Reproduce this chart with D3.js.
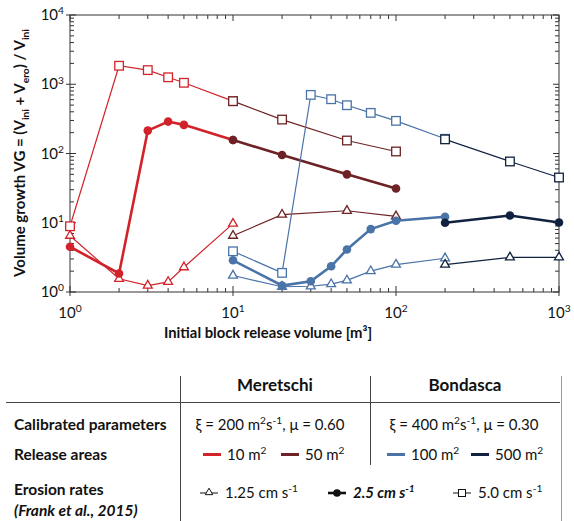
<!DOCTYPE html>
<html>
<head>
<meta charset="utf-8">
<script src="https://cdn.jsdelivr.net/npm/d3@7"></script>
<style>
  body { margin: 0; background: #fff; }
  svg text { font-family: Lato, "Open Sans", sans-serif; fill: #111; }
</style>
</head>
<body>
<svg id="chart" width="574" height="521"></svg>
<script>
// Meretschi, 10 m2 release area
const met10X = [1, 2, 3, 4, 5, 10];
const met10Slow = [6.5, 1.55, 1.24, 1.4, 2.28, 9.7];      // 1.25 cm/s
const met10Mid = [4.5, 1.85, 214, 289, 259, 157];         // 2.5 cm/s
const met10Fast = [8.9, 1850, 1600, 1260, 1050, 570];     // 5.0 cm/s
// Meretschi, 50 m2
const met50X = [10, 20, 50, 100];
const met50Slow = [6.5, 13.1, 14.9, 12.4];
const met50Mid = [157, 95, 50, 31.3];
const met50Fast = [570, 309, 154, 107];
// Bondasca, 100 m2
const bon100X = [10, 20, 30, 40, 50, 70, 100, 200];
const bon100Slow = [1.73, 1.19, 1.21, 1.3, 1.47, 2.0, 2.49, 3.07];
const bon100Mid = [2.87, 1.24, 1.43, 2.35, 4.1, 8.1, 10.7, 12.2];
const bon100Fast = [3.87, 1.89, 702, 608, 498, 386, 296, 163];
// Bondasca, 500 m2
const bon500X = [200, 500, 1000];
const bon500Slow = [2.49, 3.17, 3.17];
const bon500Mid = [10.0, 12.7, 10.1];
const bon500Fast = [160, 76.7, 45];

const xTicks = [1, 10, 100, 1000];
const yTicks = [1, 10, 100, 1000, 10000];

const areaColors = { met10: '#d2232a', met50: '#6d2325', bon100: '#4a73a8', bon500: '#10223f' };

const svg = d3.select('#chart');
const x = d3.scaleLog().domain([1, 1000]).range([70, 559]);
const y = d3.scaleLog().domain([1, 10000]).range([292, 15]);

// rich text helper: parts = [[text, 'n'|'sup'|'sub'], ...]
function rich(t, parts, size) {
  let shift = 0;
  parts.forEach(([s, k]) => {
    const target = k === 'sup' ? -size * 0.38 : k === 'sub' ? size * 0.25 : 0;
    t.append('tspan')
      .attr('dy', target - shift)
      .style('font-size', (k === 'n' ? size : size * 0.68) + 'px')
      .text(s);
    shift = target;
  });
  return t;
}

// frame
const g = svg.append('g');
g.append('rect').attr('x', x.range()[0]).attr('y', y.range()[1])
  .attr('width', x.range()[1] - x.range()[0]).attr('height', y.range()[0] - y.range()[1])
  .attr('fill', 'none').attr('stroke', '#333').attr('stroke-width', 1);

// minor/major ticks all round, pointing inward
function logMinor(lo, hi) {
  const out = [];
  for (let d = lo; d < hi; d *= 10) for (let k = 2; k <= 9; k++) out.push(d * k);
  return out;
}
const tk = svg.append('g').attr('stroke', '#333').attr('stroke-width', 1);
logMinor(1, 1000).forEach(v => {
  tk.append('line').attr('x1', x(v)).attr('x2', x(v)).attr('y1', 292).attr('y2', 288);
  tk.append('line').attr('x1', x(v)).attr('x2', x(v)).attr('y1', 15).attr('y2', 19);
});
xTicks.forEach(v => {
  tk.append('line').attr('x1', x(v)).attr('x2', x(v)).attr('y1', 296).attr('y2', 286);
  tk.append('line').attr('x1', x(v)).attr('x2', x(v)).attr('y1', 15).attr('y2', 21);
});
logMinor(1, 10000).forEach(v => {
  tk.append('line').attr('y1', y(v)).attr('y2', y(v)).attr('x1', 70).attr('x2', 74);
  tk.append('line').attr('y1', y(v)).attr('y2', y(v)).attr('x1', 559).attr('x2', 555);
});
yTicks.forEach(v => {
  tk.append('line').attr('y1', y(v)).attr('y2', y(v)).attr('x1', 66).attr('x2', 76);
  tk.append('line').attr('y1', y(v)).attr('y2', y(v)).attr('x1', 559).attr('x2', 553);
});

// tick labels
xTicks.forEach(v => {
  rich(svg.append('text').attr('x', x(v)).attr('y', 318).attr('text-anchor', 'middle'),
    [['10', 'n'], [String(Math.round(Math.log10(v))), 'sup']], 15);
});
yTicks.forEach(v => {
  rich(svg.append('text').attr('x', 64).attr('y', y(v) + 5).attr('text-anchor', 'end'),
    [['10', 'n'], [String(Math.round(Math.log10(v))), 'sup']], 15);
});

// axis titles
svg.append('text').attr('x', 268).attr('y', 338).attr('text-anchor', 'middle')
  .style('font-weight', 'bold').style('font-size', '14.8px')
  .text('Initial block release volume [m³]');
rich(svg.append('text').attr('transform', 'translate(25,153) rotate(-90)')
  .attr('text-anchor', 'middle').style('font-weight', 'bold'),
  [['Volume growth VG = (V', 'n'], ['ini', 'sub'], [' + V', 'n'], ['ero', 'sub'],
   [') / V', 'n'], ['ini', 'sub']], 15);

// series
const rates = [
  { key: 'Slow', shape: 'tri', width: 1.2 },
  { key: 'Mid', shape: 'circle', width: 2.6 },
  { key: 'Fast', shape: 'square', width: 1.2 }
];
const groups = [
  { id: 'met10', xs: met10X, Slow: met10Slow, Mid: met10Mid, Fast: met10Fast },
  { id: 'met50', xs: met50X, Slow: met50Slow, Mid: met50Mid, Fast: met50Fast },
  { id: 'bon100', xs: bon100X, Slow: bon100Slow, Mid: bon100Mid, Fast: bon100Fast },
  { id: 'bon500', xs: bon500X, Slow: bon500Slow, Mid: bon500Mid, Fast: bon500Fast }
];

const line = d3.line().x(d => x(d[0])).y(d => y(d[1]));

function marker(sel, shape, cx, cy, color) {
  if (shape === 'circle') {
    sel.append('circle').attr('cx', cx).attr('cy', cy).attr('r', 4.3).attr('fill', color);
  } else if (shape === 'square') {
    sel.append('rect').attr('x', cx - 4.3).attr('y', cy - 4.3).attr('width', 8.6).attr('height', 8.6)
      .attr('fill', '#fff').attr('stroke', color).attr('stroke-width', 1.3);
  } else {
    sel.append('path').attr('transform', `translate(${cx},${cy})`)
      .attr('d', d3.symbol(d3.symbolTriangle, 34)())
      .attr('fill', '#fff').attr('stroke', color).attr('stroke-width', 1.3);
  }
}

const plot = svg.append('g');
groups.forEach(gr => {
  const color = areaColors[gr.id];
  rates.forEach(r => {
    const pts = gr.xs.map((v, i) => [v, gr[r.key][i]]);
    plot.append('path').datum(pts).attr('d', line)
      .attr('fill', 'none').attr('stroke', color).attr('stroke-width', r.width);
    pts.forEach(p => marker(plot, r.shape, x(p[0]), y(p[1]), color));
  });
});

// ----- table / legend -----
const tb = svg.append('g');
tb.append('line').attr('x1', 6).attr('x2', 560).attr('y1', 402.5).attr('y2', 402.5).attr('stroke', '#444');
tb.append('line').attr('x1', 180.5).attr('x2', 180.5).attr('y1', 376).attr('y2', 521).attr('stroke', '#444');
tb.append('line').attr('x1', 370.5).attr('x2', 370.5).attr('y1', 376).attr('y2', 465).attr('stroke', '#444');
tb.append('line').attr('x1', 561.5).attr('x2', 561.5).attr('y1', 376).attr('y2', 521).attr('stroke', '#999');

tb.append('text').attr('x', 275).attr('y', 391).attr('text-anchor', 'middle')
  .style('font-weight', 'bold').style('font-size', '17px').text('Meretschi');
tb.append('text').attr('x', 465).attr('y', 391).attr('text-anchor', 'middle')
  .style('font-weight', 'bold').style('font-size', '17px').text('Bondasca');

[['Calibrated parameters', 430], ['Release areas', 460], ['Erosion rates', 495]].forEach(([s, yy]) => {
  tb.append('text').attr('x', 14).attr('y', yy).style('font-weight', 'bold').style('font-size', '15.5px').text(s);
});
tb.append('text').attr('x', 14).attr('y', 516).style('font-weight', 'bold').style('font-style', 'italic')
  .style('font-size', '15.5px').text('(Frank et al., 2015)');

rich(tb.append('text').attr('x', 270).attr('y', 430).attr('text-anchor', 'middle'),
  [['ξ = 200 m', 'n'], ['2', 'sup'], ['s', 'n'], ['-1', 'sup'], [', μ = 0.60', 'n']], 15);
rich(tb.append('text').attr('x', 464).attr('y', 430).attr('text-anchor', 'middle'),
  [['ξ = 400 m', 'n'], ['2', 'sup'], ['s', 'n'], ['-1', 'sup'], [', μ = 0.30', 'n']], 15);

const releaseItems = [
  { id: 'met10', x0: 203, label: '10 m' },
  { id: 'met50', x0: 281, label: '50 m' },
  { id: 'bon100', x0: 387, label: '100 m' },
  { id: 'bon500', x0: 471, label: '500 m' }
];
releaseItems.forEach(it => {
  tb.append('line').attr('x1', it.x0).attr('x2', it.x0 + 18).attr('y1', 454.5).attr('y2', 454.5)
    .attr('stroke', areaColors[it.id]).attr('stroke-width', 3);
  rich(tb.append('text').attr('x', it.x0 + 24).attr('y', 460), [[it.label, 'n'], ['2', 'sup']], 15);
});

const rateItems = [
  { shape: 'tri', x0: 200, w: 1, label: '1.25 cm s', bold: false },
  { shape: 'circle', x0: 328, w: 2.6, label: '2.5 cm s', bold: true },
  { shape: 'square', x0: 453, w: 1, label: '5.0 cm s', bold: false }
];
rateItems.forEach(it => {
  tb.append('line').attr('x1', it.x0).attr('x2', it.x0 + 18).attr('y1', 493).attr('y2', 493)
    .attr('stroke', '#111').attr('stroke-width', it.w);
  const g2 = tb.append('g');
  if (it.shape === 'circle') {
    g2.append('circle').attr('cx', it.x0 + 9).attr('cy', 493).attr('r', 3.8).attr('fill', '#111');
  } else if (it.shape === 'square') {
    g2.append('rect').attr('x', it.x0 + 5.5).attr('y', 489.5).attr('width', 7).attr('height', 7)
      .attr('fill', '#fff').attr('stroke', '#111').attr('stroke-width', 1);
  } else {
    g2.append('path').attr('transform', `translate(${it.x0 + 9},492.5)`)
      .attr('d', d3.symbol(d3.symbolTriangle, 24)())
      .attr('fill', '#fff').attr('stroke', '#111').attr('stroke-width', 1);
  }
  const t = tb.append('text').attr('x', it.x0 + 25).attr('y', 498);
  if (it.bold) t.style('font-weight', 'bold').style('font-style', 'italic');
  rich(t, [[it.label, 'n'], ['-1', 'sup']], 15);
});
</script>
</body>
</html>
